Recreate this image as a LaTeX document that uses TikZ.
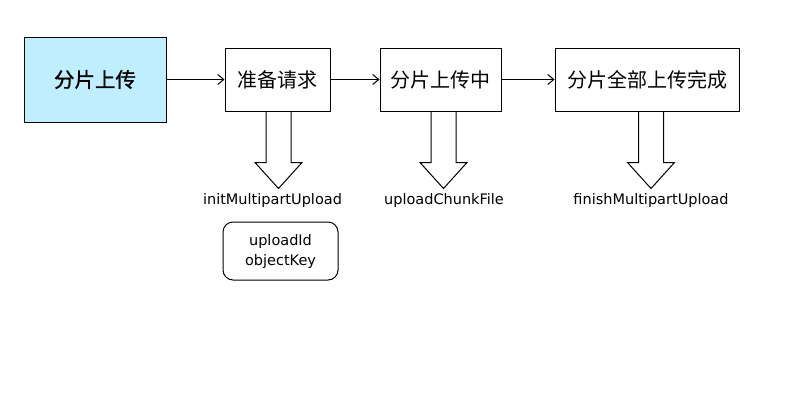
\documentclass[tikz,border=0pt]{standalone}
\usepackage{fontspec}
\setmainfont{DejaVu Sans}
\newfontfamily\cjk{Noto Sans CJK SC}
\newfontfamily\cjkheavy[FakeBold=1]{Noto Sans CJK SC}
\usetikzlibrary{arrows.meta}
\definecolor{startblue}{RGB}{191,238,255}

\begin{document}
\begin{tikzpicture}[
  x=1pt, y=-1pt,
  stage/.style={draw, rectangle, line width=1pt, minimum height=63pt, inner sep=0pt,
    font=\cjk\fontsize{20}{22}\selectfont},
  flow/.style={line width=1pt, -{Straight Barb[length=6pt, width=10pt]}},
  call/.style={inner sep=0pt, anchor=base, font=\fontsize{14.5}{17}\selectfont},
  result/.style={draw, rounded corners=10pt, line width=1pt, minimum width=115pt,
    minimum height=58pt, align=center, font=\fontsize{14.5}{20}\selectfont}
]
\useasboundingbox (0,0) rectangle (800,400);

% Stages
\node[stage, fill=startblue, minimum width=142pt, minimum height=85pt,
  font=\cjkheavy\fontsize{20.5}{22}\selectfont] (start) at (95,79.5) {分片上传};
\node[stage, minimum width=105pt] (prep) at (277.5,79.5) {准备请求};
\node[stage, minimum width=121pt] (chunk) at (440.5,79.5) {分片上传中};
\node[stage, minimum width=184pt] (finish) at (647,79.5) {分片全部上传完成};

% Flow
\draw[flow] (start) -- (prep);
\draw[flow] (prep) -- (chunk);
\draw[flow] (chunk) -- (finish);

% Calls below each stage
\foreach \s/\dx in {prep/1, chunk/3, finish/4} {
  \draw[line width=1pt] ([xshift=\dx pt]\s.south) ++(-12.5,0) -- ++(0,51) -- ++(-11,0)
    -- ++(23.5,26) -- ++(23.5,-26) -- ++(-11,0) -- ++(0,-51);
}
\node[call] (initcall) at (272.5,204) {initMultipartUpload};
\node[call] (chunkcall) at (444,204) {uploadChunkFile};
\node[call] (finishcall) at (651,204) {finishMultipartUpload};

% Returned values
\node[result] (initresult) at (280.5,251) {uploadId\\objectKey};
\end{tikzpicture}
\end{document}
